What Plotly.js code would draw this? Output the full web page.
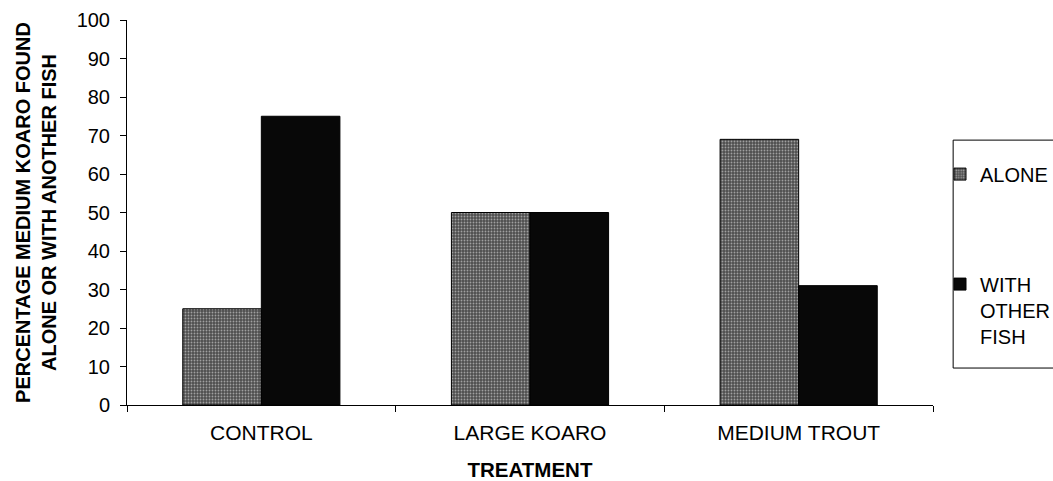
<!DOCTYPE html>
<html>
<head>
<meta charset="utf-8">
<script src="https://cdn.plot.ly/plotly-3.0.1.min.js"></script>
<style>
  html, body { margin: 0; padding: 0; background: #fff; }
  #chart { width: 1053px; height: 481px; }
</style>
</head>
<body>
<div id="chart"></div>
<script>
// Treatments along the x axis
const categories = ['CONTROL', 'LARGE KOARO', 'MEDIUM TROUT'];
// Percentage of medium koaro found alone
const aloneValues = [25, 50, 69];
// Percentage of medium koaro found with another fish
const withOtherValues = [75, 50, 31];
// Y axis tick values
const yTicks = [0, 10, 20, 30, 40, 50, 60, 70, 80, 90, 100];

const FONT = 'Liberation Sans, Arial, Helvetica, sans-serif';

const traces = [
  {
    type: 'bar',
    name: 'ALONE',
    x: categories,
    y: aloneValues,
    legendgroup: 'a',
    marker: {
      color: '#5e5e5e',
      line: { color: '#000', width: 1 },
      pattern: { shape: '.', fgcolor: '#a0a0a0', bgcolor: '#4e4e4e', size: 3, solidity: 0.3 }
    },
    hoverinfo: 'x+y'
  },
  {
    type: 'bar',
    name: 'WITH<br>OTHER<br>FISH',
    x: categories,
    y: withOtherValues,
    legendgroup: 'b',
    marker: { color: '#080808', line: { color: '#000', width: 1 } },
    hoverinfo: 'x+y'
  }
];

const layout = {
  width: 1053,
  height: 481,
  margin: { l: 127, r: 120, t: 20, b: 76 },
  paper_bgcolor: '#fff',
  plot_bgcolor: '#fff',
  font: { family: FONT, color: '#000', size: 20 },
  barmode: 'group',
  bargap: 0.415,
  bargroupgap: 0,
  showlegend: true,
  legend: {
    xref: 'container', yref: 'container',
    x: 0.8927, xanchor: 'left',
    y: 0.6786, yanchor: 'top',
    valign: 'top',
    font: { family: FONT, size: 20, color: '#000' },
    traceorder: 'grouped',
    tracegroupgap: 81,
    bgcolor: 'rgba(0,0,0,0)',
    borderwidth: 0
  },
  xaxis: {
    type: 'category',
    categoryarray: categories,
    showline: true,
    linecolor: '#000',
    linewidth: 1,
    ticks: 'outside',
    tickson: 'boundaries',
    ticklen: 6,
    tickcolor: '#000',
    ticklabelstandoff: 9,
    tickfont: { family: FONT, size: 21, color: '#000' },
    showgrid: false,
    zeroline: false,
    title: {
      text: '<b>TREATMENT</b>',
      font: { family: FONT, size: 20.5, color: '#000' },
      standoff: 19
    }
  },
  yaxis: {
    range: [0, 100],
    tickvals: yTicks,
    ticktext: yTicks.map(String),
    showline: true,
    linecolor: '#000',
    linewidth: 1,
    ticks: 'outside',
    ticklen: 6,
    tickcolor: '#000',
    ticklabelstandoff: 6,
    tickfont: { family: FONT, size: 20, color: '#000' },
    showgrid: false,
    zeroline: false,
    title: {
      text: '<b>PERCENTAGE MEDIUM KOARO FOUND<br>ALONE OR WITH ANOTHER FISH</b>',
      font: { family: FONT, size: 20, color: '#000' },
      standoff: 14
    }
  },
  // inner half of the crossing tick marks on the value axis
  yaxis2: {
    overlaying: 'y',
    anchor: 'x',
    side: 'left',
    range: [0, 100],
    tickvals: yTicks,
    ticks: 'inside',
    ticklen: 6,
    tickcolor: '#000',
    showticklabels: false,
    showline: false,
    showgrid: false,
    zeroline: false
  },
  shapes: [
    {
      // legend frame
      type: 'rect',
      xref: 'paper', yref: 'paper',
      x0: 1.025, x1: 1.1539,
      y0: 0.096, y1: 0.688,
      line: { color: '#000', width: 1 },
      fillcolor: 'rgba(0,0,0,0)'
    }
  ]
};

Plotly.newPlot('chart', traces, layout, { displayModeBar: false, staticPlot: true });
</script>
</body>
</html>
